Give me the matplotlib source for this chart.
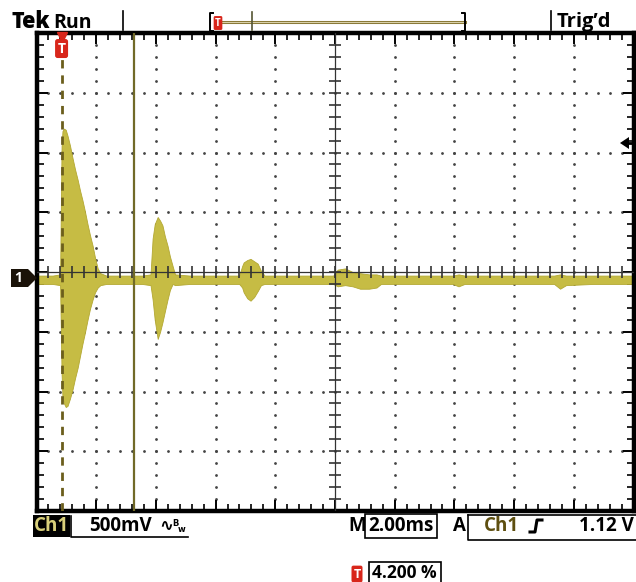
import numpy as np
import matplotlib.pyplot as plt
from matplotlib.lines import Line2D
from matplotlib.patches import Polygon, Rectangle

# envelope of the captured burst signal (time in ms from trigger, volts)
t_ms = [-0.84, -0.6, -0.3, -0.05, 0.0, 0.03, 0.08, 0.14, 0.2, 0.28, 0.37, 0.45, 0.54,
        0.62, 0.70, 0.78, 0.87, 0.95, 1.04, 1.12, 1.21, 1.3, 1.5, 1.9, 2.3, 2.7,
        2.98, 3.05, 3.12, 3.22, 3.30, 3.38, 3.46, 3.55, 3.63, 3.72, 3.8, 4.3,
        4.9, 5.5, 5.95, 6.05, 6.10, 6.22, 6.33, 6.45, 6.57, 6.68, 6.8, 7.5, 8.3,
        9.1, 9.25, 9.5, 9.75, 10.0, 10.3, 10.55, 10.7, 11.5, 12.4, 13.1, 13.3,
        13.5, 14.4, 15.5, 16.5, 16.7, 16.9, 17.8, 18.6, 19.16]
v_upper = [-0.03, -0.03, -0.03, -0.02, 1.05, 1.18, 1.20, 1.19, 1.14, 1.06, 0.95, 0.86, 0.77,
           0.68, 0.60, 0.51, 0.40, 0.31, 0.22, 0.12, 0.03, -0.01, -0.03, -0.03, -0.03, -0.03,
           -0.02, 0.28, 0.40, 0.46, 0.43, 0.39, 0.30, 0.22, 0.13, 0.05, -0.02, -0.03,
           -0.03, -0.03, -0.03, 0.05, 0.08, 0.10, 0.11, 0.09, 0.07, 0.01, -0.03, -0.03, -0.03,
           -0.03, 0.02, 0.03, 0.00, -0.01, -0.02, -0.02, -0.03, -0.03, -0.03, -0.03, -0.02,
           -0.03, -0.03, -0.03, -0.03, -0.02, -0.03, -0.03, -0.03, -0.03]
v_lower = [-0.10, -0.10, -0.10, -0.11, -0.85, -1.05, -1.10, -1.13, -1.12, -1.06, -0.98, -0.89, -0.80,
           -0.70, -0.60, -0.51, -0.40, -0.31, -0.23, -0.17, -0.13, -0.11, -0.10, -0.10, -0.10, -0.10,
           -0.11, -0.23, -0.40, -0.56, -0.50, -0.42, -0.33, -0.23, -0.15, -0.10, -0.11, -0.10,
           -0.10, -0.10, -0.10, -0.13, -0.17, -0.22, -0.24, -0.21, -0.16, -0.11, -0.10, -0.10, -0.10,
           -0.10, -0.12, -0.11, -0.12, -0.14, -0.14, -0.13, -0.10, -0.10, -0.10, -0.10, -0.12,
           -0.10, -0.10, -0.10, -0.10, -0.14, -0.11, -0.10, -0.10, -0.10]

volts_per_div = 0.5
ms_per_div = 2.0
trig_pos = 0.042        # trigger position, fraction of record
cursor_ms = 2.41

W, H = 636, 582
def fx(x): return x / W
def fy(y): return 1 - y / H

plt.rcParams['font.family'] = ['Open Sans', 'DejaVu Sans']
plt.rcParams['font.weight'] = 'bold'
fig = plt.figure(figsize=(W / 100, H / 100), dpi=100)
fig.patch.set_facecolor('white')
ax = fig.add_axes([fx(36.5), fy(511), (633.5 - 36.5) / W, 478 / H])

x0 = -trig_pos * 10 * ms_per_div
x1 = x0 + 10 * ms_per_div
ax.set_xlim(x0, x1)
ax.set_ylim(-4 * volts_per_div, 4 * volts_per_div)

xmaj = x0 + ms_per_div * np.arange(11)
xmin = x0 + ms_per_div / 5 * np.arange(51)
ymaj = volts_per_div * np.arange(-4, 5)
ymin = volts_per_div / 5 * np.arange(-20, 21)
ax.set_xticks(xmaj)
ax.set_xticks(xmin, minor=True)
ax.set_yticks(ymaj)
ax.set_yticks(ymin, minor=True)
ax.tick_params(which='both', direction='in', top=True, right=True,
               labelbottom=False, labelleft=False, color='black')
ax.tick_params(which='major', length=8, width=1.4)
ax.tick_params(which='minor', length=5, width=1.2)
for s in ax.spines.values():
    s.set_linewidth(3.2)

# dotted graticule
xc = xmaj[5]
for xv in xmaj[1:-1]:
    if xv == xc:
        continue
    ax.scatter(np.full(len(ymin) - 2, xv), ymin[1:-1], s=4, color='#444444', lw=0, zorder=1)
for yv in ymaj[1:-1]:
    if yv == 0:
        continue
    ax.scatter(xmin[1:-1], np.full(len(xmin) - 2, yv), s=4, color='#444444', lw=0, zorder=1)

# center crosshair with ticks
ax.axhline(0, color='#333333', lw=0.9, zorder=3)
ax.axvline(xc, color='#333333', lw=0.9, zorder=3)
ax.plot(xmin[1:-1], np.zeros(len(xmin) - 2), ls='none', marker='|', ms=8, mew=1.2, color='#333333', zorder=3)
ax.plot(np.full(len(ymin) - 2, xc), ymin[1:-1], ls='none', marker='_', ms=8, mew=1.2, color='#333333', zorder=3)

# signal
ax.fill_between(t_ms, v_upper, v_lower, color='#c6bc44', lw=0.6, edgecolor='#b3a832', zorder=2)

# trigger line and cursor
ax.axvline(0, color='#6b5e1c', lw=2, ls=(0, (3, 2.5)), zorder=4)
ax.axvline(cursor_ms, color='#716a28', lw=1.6, zorder=4)
ax.text(0, 1.87, 'T', color='white', fontsize=10, weight='bold', ha='center', va='center', zorder=6,
        bbox=dict(boxstyle='round,pad=0.18', fc='#d8261b', ec='none'))
ax.plot(0, 1.965, marker='v', color='#d8261b', ms=7, clip_on=False, zorder=6)

# header
fig.text(fx(11), fy(27.5), 'Tek', fontsize=15.5, weight='heavy', va='baseline', ha='left')
fig.text(fx(53), fy(27.5), 'Run', fontsize=14, va='baseline', ha='left')
fig.text(fx(557), fy(27.5), "Trig\u2019d", fontsize=14.5, va='baseline', ha='left')
for xv in (123, 551):
    fig.add_artist(Line2D([fx(xv), fx(xv)], [fy(11), fy(30)], color='black', lw=1.2))
fig.add_artist(Line2D([fx(216), fx(465)], [fy(21.5), fy(21.5)], color='#8b7a38', lw=2.2))
fig.add_artist(Line2D([fx(216), fx(465)], [fy(21.5), fy(21.5)], color='#e8e2c0', lw=0.6))
fig.add_artist(Line2D([fx(252), fx(252)], [fy(12), fy(30)], color='#555533', lw=1.2))
fig.add_artist(Line2D([fx(213), fx(210), fx(210), fx(213)], [fy(13), fy(13), fy(31), fy(31)], color='black', lw=1.4))
fig.add_artist(Line2D([fx(462), fx(465), fx(465), fx(462)], [fy(13), fy(13), fy(31), fy(31)], color='black', lw=1.4))
fig.text(fx(218), fy(23), 'T', color='white', fontsize=7, ha='center', va='center',
         bbox=dict(boxstyle='round,pad=0.15', fc='#d8261b', ec='none'))

# ground marker and trigger level arrow
fig.add_artist(Polygon([(fx(11), fy(269)), (fx(28), fy(269)), (fx(37), fy(278)),
                        (fx(28), fy(287)), (fx(11), fy(287))], closed=True, fc='#1a1208', ec='none'))
fig.text(fx(18.5), fy(278), '1', color='white', fontsize=10, ha='center', va='center')
fig.add_artist(Polygon([(fx(620), fy(143)), (fx(629), fy(137)), (fx(629), fy(149))],
                       closed=True, fc='black', ec='none'))
fig.add_artist(Line2D([fx(626), fx(633)], [fy(143), fy(143)], color='black', lw=2))

# bottom readouts
fs = 13.5
fig.add_artist(Rectangle((fx(33), fy(537)), (70 - 33) / W, 22 / H, fc='black', ec='none'))
fig.text(fx(51.5), fy(526), 'Ch1', color='#d8cf7a', fontsize=fs, ha='center', va='center')
fig.add_artist(Line2D([fx(71), fx(71), fx(188)], [fy(516), fy(537), fy(537)], color='black', lw=1.2))
fig.text(fx(89), fy(526), '500mV', fontsize=fs, ha='left', va='center')
fig.text(fx(159), fy(526), '\u223f', fontsize=12, ha='left', va='center', family='DejaVu Sans')
fig.text(fx(172), fy(523), 'B', fontsize=6, ha='left', va='center', family='DejaVu Sans')
fig.text(fx(178), fy(529), 'w', fontsize=6, ha='left', va='center', family='DejaVu Sans')

fig.text(fx(348), fy(526), 'M', fontsize=fs, ha='left', va='center')
fig.add_artist(Rectangle((fx(365), fy(538)), (437 - 365) / W, 24 / H, fc='none', ec='black', lw=1.2))
fig.text(fx(401), fy(526), '2.00ms', fontsize=fs, ha='center', va='center')
fig.text(fx(453), fy(526), 'A', fontsize=fs, ha='left', va='center')
fig.add_artist(Line2D([fx(468), fx(468), fx(636)], [fy(515), fy(540), fy(540)], color='black', lw=1.2))
fig.add_artist(Line2D([fx(468), fx(636)], [fy(515), fy(515)], color='black', lw=1.2))
fig.text(fx(484), fy(526), 'Ch1', color='#5e4f10', fontsize=fs, ha='left', va='center')
fig.add_artist(Line2D([fx(530), fx(535), fx(537), fx(542)], [fy(532), fy(532), fy(520), fy(520)], color='black', lw=2.2))
fig.text(fx(634), fy(526), '1.12 V', fontsize=fs, ha='right', va='center')

fig.text(fx(357), fy(574), 'T', color='white', fontsize=9, ha='center', va='center',
         bbox=dict(boxstyle='round,pad=0.15', fc='#d8261b', ec='none'))
fig.add_artist(Rectangle((fx(369), fy(584)), (441 - 369) / W, 22 / H, fc='none', ec='black', lw=1.2, clip_on=False))
fig.text(fx(372), fy(573), '4.200 %', fontsize=12.5, ha='left', va='center')

fig.savefig('out.png', dpi=100, facecolor='white')
